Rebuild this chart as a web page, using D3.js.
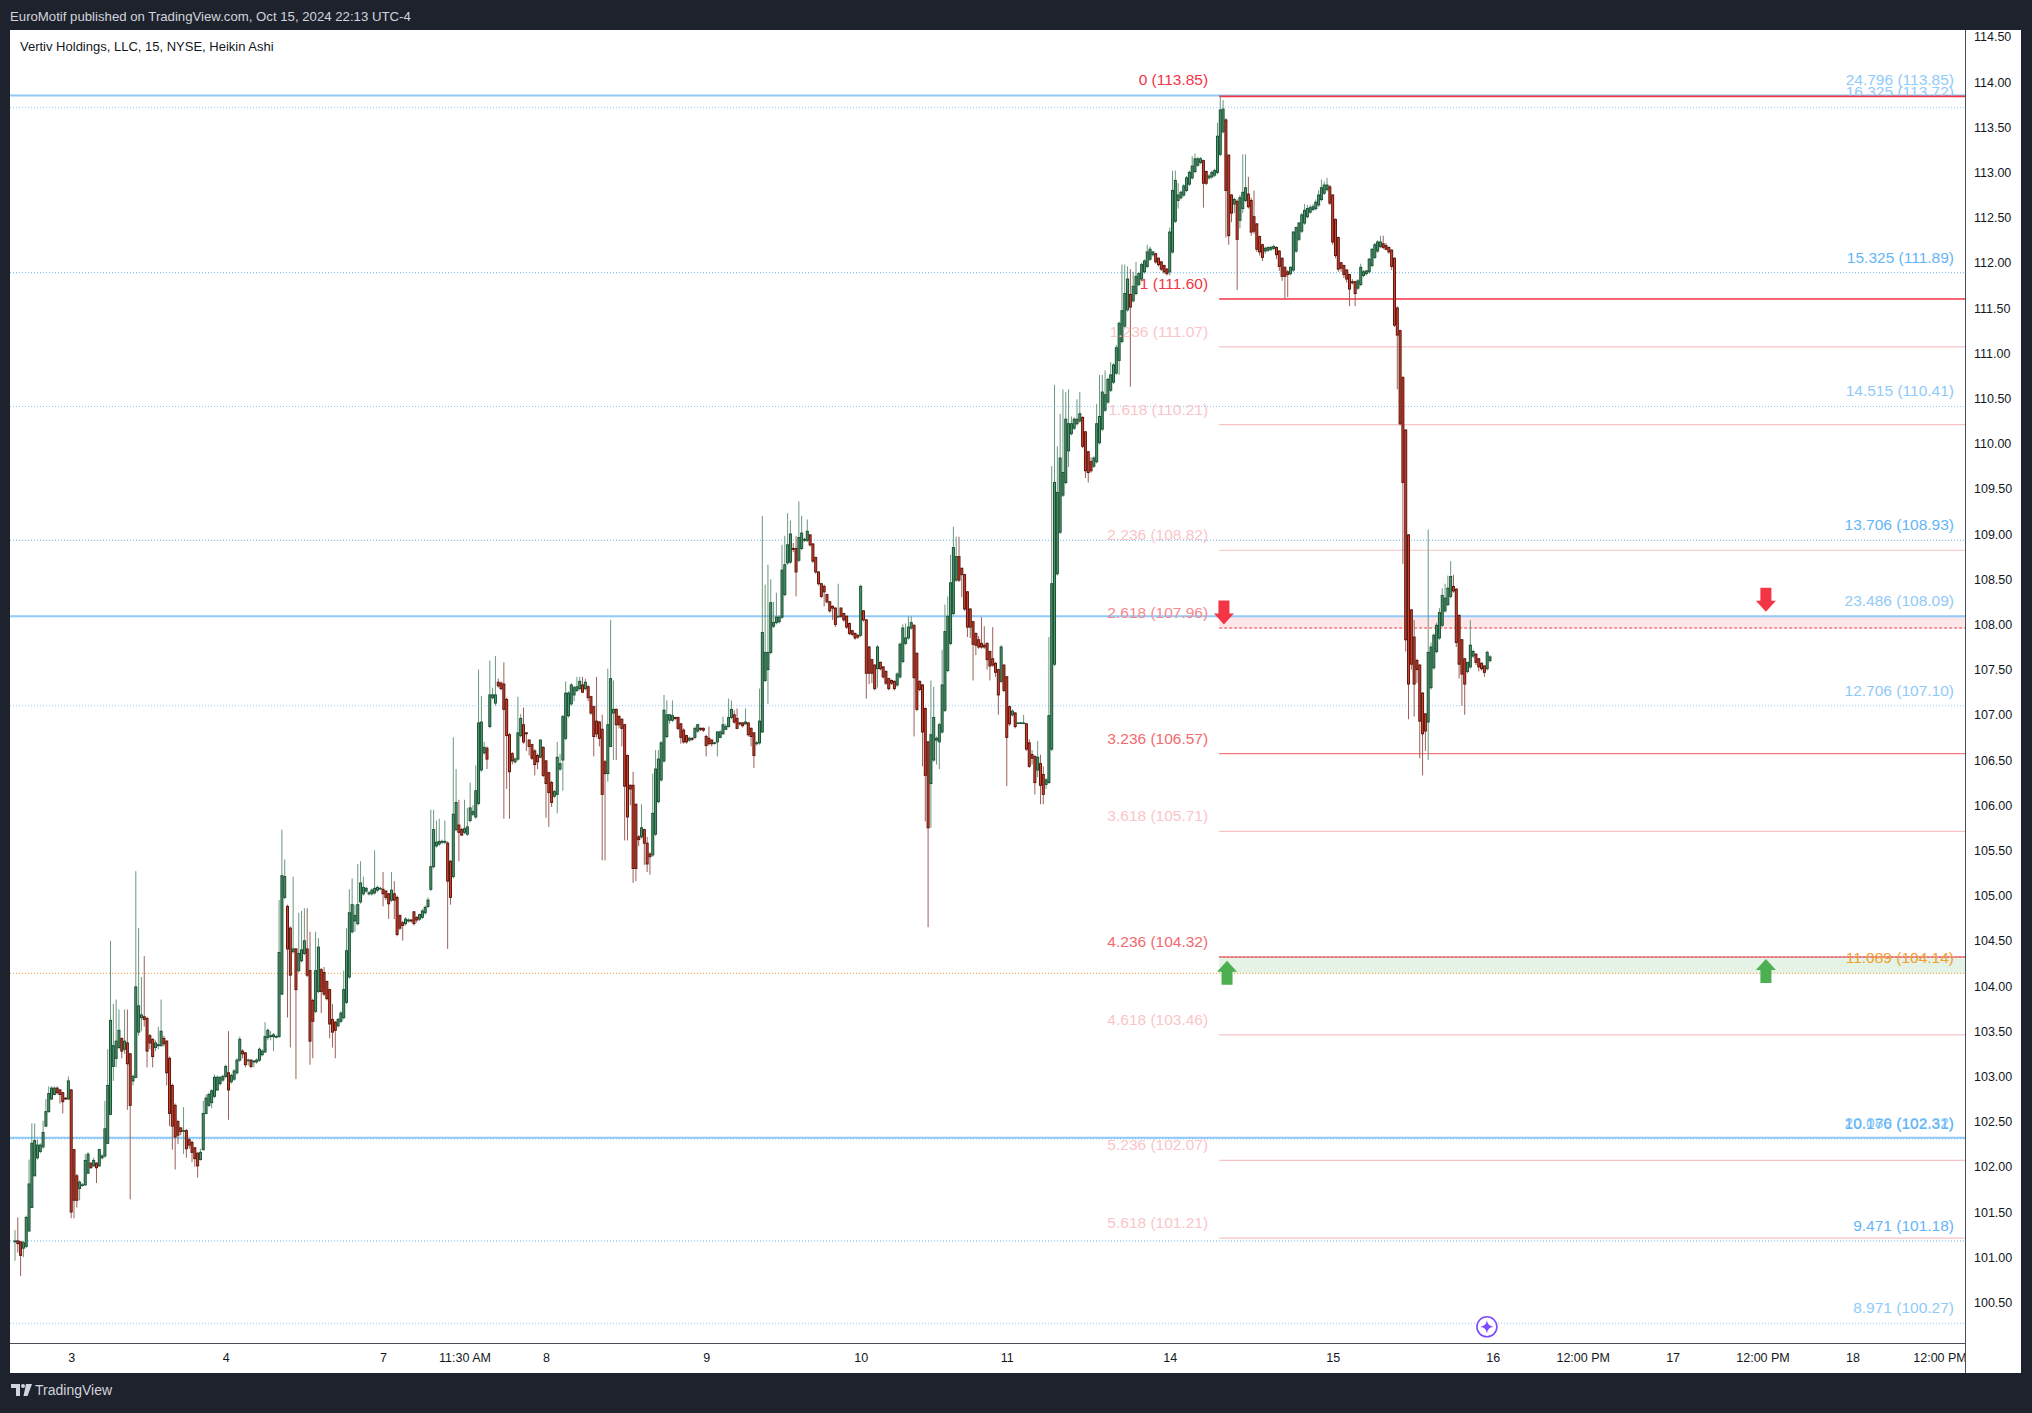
<!DOCTYPE html>
<html><head><meta charset="utf-8">
<script src="https://cdn.jsdelivr.net/npm/d3@7"></script>
<style>
html,body{margin:0;padding:0;background:#1e222d;}
svg{display:block;}
text{font-family:"Liberation Sans",Arial,sans-serif;}
</style></head><body>
<svg id="c" width="2032" height="1413"></svg>
<script>
// ---------- Heikin Ashi 15m bars, [open, high, low, close], one array per session ----------
const day02=[[101.17,101.30,100.96,101.18],[101.18,101.44,101.05,101.15],[101.17,101.18,100.79,101.02],[101.10,101.18,101.00,101.16],[101.12,101.46,101.10,101.44],[101.29,102.08,101.28,101.81],[101.55,102.48,101.55,102.26],[101.90,102.48,101.90,102.29],[102.10,102.30,102.08,102.24],[102.17,102.26,102.15,102.24],[102.22,102.51,102.20,102.38],[102.45,102.75,102.44,102.61],[102.61,102.89,102.60,102.81],[102.75,102.89,102.74,102.87],[102.80,102.89,102.79,102.87],[102.87,102.89,102.80,102.82],[102.85,102.86,102.70,102.80],[102.82,102.83,102.59,102.72],[102.76,102.77,102.74,102.75],[102.75,103.00,102.74,102.95]];
const day03=[[102.85,102.86,101.43,101.50],[102.19,102.19,101.43,101.63],[101.90,101.92,101.55,101.63],[101.76,101.85,101.63,101.83],[101.80,101.82,101.78,101.80],[101.80,102.14,101.79,102.07],[101.93,102.16,101.92,102.14],[102.04,102.05,101.98,101.99],[102.01,102.10,102.00,102.07],[102.04,102.05,101.82,101.99],[102.01,102.20,102.00,102.19],[102.10,102.14,102.08,102.12],[102.12,102.73,102.10,102.42],[102.26,103.30,102.25,102.90],[102.58,104.50,102.57,103.62],[103.11,103.80,102.95,103.34],[103.20,103.85,103.10,103.39],[103.32,103.74,103.30,103.51],[103.42,103.43,103.20,103.28],[103.30,103.74,103.25,103.39],[103.37,103.74,102.63,103.14],[103.25,103.26,101.64,102.68],[102.95,103.02,102.90,103.00],[102.99,105.27,102.98,103.99],[103.49,104.64,103.45,103.78],[103.65,104.10,103.50,103.68],[103.66,104.33,103.55,103.63],[103.64,103.66,103.10,103.28],[103.45,103.47,103.30,103.37],[103.41,103.42,103.10,103.22],[103.32,103.40,103.28,103.37],[103.34,103.55,103.30,103.35],[103.34,103.85,103.33,103.50],[103.42,103.45,103.33,103.36],[103.39,103.40,102.90,103.04],[103.20,103.22,102.45,102.59],[102.90,102.92,102.19,102.45],[102.68,102.70,101.97,102.33],[102.50,102.52,102.25,102.35],[102.43,102.44,102.35,102.39],[102.40,102.66,102.14,102.40],[102.40,102.42,102.10,102.20],[102.30,102.32,102.20,102.24],[102.27,102.29,102.05,102.16],[102.21,102.22,102.00,102.09],[102.15,102.16,101.88,102.01],[102.08,102.20,102.07,102.16],[102.19,102.73,102.18,102.59],[102.59,102.80,102.58,102.76],[102.68,102.82,102.66,102.80],[102.71,102.86,102.65,102.84],[102.78,103.02,102.76,102.99],[102.85,103.01,102.84,102.99],[102.92,103.00,102.90,102.99],[102.96,103.02,102.94,103.00]];
const day04=[[103.00,103.13,102.98,103.11],[103.04,103.50,102.52,102.85],[102.94,103.03,102.92,103.01],[102.97,103.08,102.95,103.06],[103.04,103.20,103.02,103.18],[103.18,103.44,103.16,103.41],[103.28,103.30,103.20,103.25],[103.26,103.27,103.10,103.13],[103.18,103.20,103.12,103.18],[103.18,103.19,103.09,103.11],[103.16,103.18,103.10,103.17],[103.16,103.20,103.14,103.18],[103.18,103.32,103.16,103.30],[103.24,103.30,103.22,103.28],[103.27,103.60,103.26,103.44],[103.43,103.53,103.40,103.51],[103.44,103.50,103.40,103.45],[103.44,103.48,103.28,103.46],[103.44,103.46,103.42,103.44],[103.44,104.95,103.43,104.37],[103.91,105.73,103.90,105.22],[104.98,105.40,104.96,105.21],[104.88,104.90,103.65,104.41],[104.64,104.66,103.32,104.12],[104.38,105.21,104.36,104.41],[104.41,104.42,102.97,103.96],[104.17,104.81,104.15,104.36],[104.28,104.83,104.26,104.40],[104.36,104.86,104.34,104.50],[104.41,104.86,104.10,104.12],[104.17,104.60,103.13,103.39],[103.84,103.86,103.20,103.61],[103.72,104.60,103.70,104.17],[103.94,104.53,103.92,104.43],[104.18,104.20,103.70,103.94],[104.15,104.21,103.89,103.91],[104.05,104.06,103.84,103.86],[103.96,103.97,103.42,103.58],[103.63,103.80,103.32,103.49],[103.60,103.61,103.20,103.51],[103.56,103.65,103.54,103.63],[103.61,103.72,103.59,103.70],[103.65,104.17,103.63,103.96],[103.82,104.64,103.80,104.39],[104.10,105.07,104.08,104.81],[104.60,105.19,104.58,104.90],[104.72,104.90,104.60,104.78],[104.69,105.35,104.67,104.90],[104.93,105.38,104.91,105.14],[105.02,105.21,105.00,105.09],[105.05,105.10,105.03,105.08],[105.02,105.05,105.00,105.03],[105.02,105.08,105.00,105.06],[105.03,105.50,105.01,105.08],[105.06,105.11,105.04,105.09],[105.08,105.10,105.06,105.08]];
const day07=[[105.07,105.26,104.88,105.02],[105.05,105.06,104.95,104.98],[105.02,105.03,104.74,104.91],[104.95,105.26,104.93,105.06],[105.02,105.16,104.74,104.95],[104.98,105.00,104.55,104.57],[104.78,104.79,104.62,104.64],[104.70,104.72,104.50,104.67],[104.69,104.76,104.67,104.74],[104.72,104.75,104.70,104.73],[104.73,104.74,104.70,104.72],[104.82,104.83,104.67,104.69],[104.76,104.77,104.70,104.73],[104.74,104.80,104.72,104.79],[104.76,104.85,104.74,104.83],[104.81,104.89,104.79,104.87],[104.88,104.98,104.86,104.95],[105.07,105.95,105.05,105.32],[105.32,105.95,105.30,105.73],[105.55,105.83,105.53,105.59],[105.57,105.85,105.55,105.60],[105.59,105.62,105.57,105.60],[105.59,105.83,105.57,105.60],[105.58,105.60,104.41,105.16],[105.38,105.39,104.90,104.98],[105.21,106.75,105.19,105.90],[105.73,106.40,105.71,106.03],[105.78,106.06,105.38,105.70],[105.73,105.75,105.66,105.67],[105.70,106.06,105.68,105.74],[105.68,105.97,105.66,105.76],[105.83,106.25,105.81,105.97],[105.90,106.00,105.88,105.93],[105.87,106.44,105.85,106.16],[106.02,107.50,106.00,106.91],[106.39,107.21,106.37,106.92],[106.58,106.70,106.56,106.64],[106.63,106.65,106.40,106.51],[106.87,107.60,106.85,107.22],[107.19,107.30,107.17,107.22],[107.13,107.65,107.10,107.22],[107.36,107.40,107.30,107.32],[107.35,107.37,107.27,107.29],[107.34,107.58,105.85,107.06],[107.17,107.19,106.18,106.77],[106.78,106.80,105.85,106.37],[106.57,106.59,106.45,106.49],[106.48,106.53,106.46,106.51],[106.51,107.20,106.49,106.80],[106.77,107.01,106.75,106.96],[106.89,107.08,106.68,106.70],[106.80,106.81,106.60,106.79],[106.72,106.73,106.55,106.65],[106.67,106.68,106.50,106.52],[106.60,106.62,106.33,106.45],[106.55,106.57,106.40,106.48],[106.53,106.73,106.52,106.72],[106.64,106.65,106.31,106.33]];
const day08=[[106.49,106.50,105.86,106.24],[106.36,106.37,105.76,106.14],[106.25,106.27,105.98,106.03],[106.10,106.17,106.08,106.15],[106.12,106.70,105.91,106.53],[106.40,106.57,106.38,106.46],[106.50,107.00,106.16,106.98],[106.74,107.37,106.72,107.24],[106.99,107.26,106.97,107.24],[107.12,107.35,107.10,107.33],[107.22,107.32,107.15,107.30],[107.27,107.42,107.25,107.31],[107.29,107.42,107.27,107.37],[107.33,107.42,107.24,107.25],[107.29,107.40,107.27,107.36],[107.31,107.33,107.15,107.19],[107.20,107.21,107.00,107.02],[107.09,107.10,106.54,106.76],[106.93,107.42,106.75,106.79],[106.92,106.93,106.65,106.74],[106.84,107.00,105.39,106.12],[106.48,106.50,105.39,106.35],[106.35,107.51,106.26,106.89],[106.65,108.05,106.65,107.40],[107.02,107.38,106.50,107.06],[107.06,107.07,106.50,106.89],[106.98,107.00,106.85,106.89],[106.95,106.96,106.65,106.85],[106.89,106.90,105.61,106.21],[106.55,106.56,105.61,105.87],[106.22,106.23,106.00,106.18],[106.22,106.37,105.14,105.30],[106.01,106.02,105.16,105.30],[105.65,105.67,105.55,105.62],[105.65,106.01,105.63,105.75],[105.73,105.74,105.34,105.58],[105.58,105.65,105.26,105.35],[105.46,105.48,105.23,105.43],[105.45,106.35,105.43,105.91],[105.68,106.61,105.66,106.40],[106.04,106.61,106.02,106.51],[106.28,106.71,106.26,106.69],[106.49,107.22,106.47,107.05],[106.76,107.16,106.74,107.00],[106.94,107.01,106.90,107.00],[106.94,107.16,106.92,106.99],[106.97,106.98,106.94,106.96],[106.97,106.98,106.83,106.85],[106.90,106.91,106.68,106.75],[106.83,106.85,106.68,106.70],[106.77,106.78,106.68,106.70],[106.72,106.76,106.70,106.74],[106.74,106.75,106.71,106.73],[106.75,106.87,106.73,106.85],[106.82,106.90,106.80,106.89],[106.85,106.86,106.82,106.84],[106.85,106.86,106.81,106.83]];
const day09=[[106.76,106.78,106.54,106.66],[106.74,106.87,106.66,106.68],[106.72,106.73,106.65,106.68],[106.69,106.70,106.67,106.69],[106.70,106.82,106.54,106.81],[106.75,106.83,106.74,106.81],[106.79,106.98,106.78,106.89],[106.84,106.90,106.83,106.87],[106.87,107.18,106.86,106.97],[106.97,107.16,106.95,107.06],[107.00,107.05,106.90,106.92],[106.96,107.07,106.84,106.85],[106.91,106.92,106.88,106.90],[106.91,106.92,106.86,106.88],[106.90,107.07,106.89,106.92],[106.91,106.92,106.76,106.78],[106.85,106.86,106.65,106.76],[106.80,106.81,106.41,106.55],[106.68,106.71,106.66,106.69],[106.69,107.29,106.67,106.93],[106.81,109.20,106.80,107.91],[107.38,108.44,107.36,107.69],[107.50,108.66,107.12,107.69],[107.69,108.50,107.67,108.24],[107.98,108.25,107.96,108.02],[108.02,108.35,108.00,108.08],[108.03,108.10,108.01,108.08],[108.08,108.88,108.06,108.60],[108.33,108.98,108.31,108.66],[108.68,109.23,108.66,108.88],[108.69,109.15,108.67,109.00],[108.84,108.90,108.80,108.83],[108.84,108.98,108.31,108.58],[108.71,109.36,108.69,108.96],[108.84,109.20,108.82,109.01],[108.93,108.96,108.91,108.94],[108.93,109.16,108.91,109.03],[108.99,109.00,108.86,108.88],[108.89,108.90,108.68,108.70],[108.74,108.75,108.56,108.58],[108.58,108.59,108.43,108.45],[108.45,108.46,108.29,108.31],[108.42,108.44,108.20,108.36],[108.33,108.34,108.23,108.25],[108.25,108.26,108.13,108.15],[108.20,108.21,108.05,108.18],[108.18,108.19,107.97,108.00],[108.09,108.45,108.07,108.09],[108.18,108.19,108.07,108.09],[108.12,108.13,108.03,108.05],[108.09,108.10,107.95,107.97],[108.01,108.02,107.88,107.90],[107.93,107.94,107.87,107.89],[107.90,107.91,107.83,107.85],[107.88,107.89,107.84,107.86]];
const day10=[[107.88,108.44,107.86,108.42],[108.15,108.16,108.03,108.05],[108.05,108.06,107.18,107.46],[107.75,107.76,107.34,107.46],[107.61,107.62,107.35,107.46],[107.55,107.56,107.27,107.29],[107.51,107.77,107.30,107.75],[107.58,107.59,107.49,107.51],[107.53,107.54,107.40,107.42],[107.48,107.49,107.33,107.35],[107.40,107.41,107.27,107.29],[107.38,107.39,107.33,107.35],[107.37,107.38,107.27,107.29],[107.33,107.47,107.31,107.45],[107.42,107.80,107.40,107.78],[107.59,108.00,107.57,107.96],[107.79,108.01,107.77,107.85],[107.85,108.09,107.83,107.97],[107.96,108.09,107.94,108.02],[107.99,108.00,106.76,107.41],[107.68,107.69,107.04,107.06],[107.37,107.38,107.26,107.28],[107.33,107.34,106.43,106.81],[107.07,107.08,105.82,106.33],[106.70,106.71,104.65,105.75],[106.24,107.38,105.75,106.78],[106.50,107.31,106.48,106.97],[106.72,106.76,106.45,106.74],[106.70,106.91,106.40,106.89],[106.81,107.72,106.79,107.33],[107.05,108.22,107.03,107.92],[107.49,108.31,107.47,108.09],[107.79,108.77,107.77,108.46],[108.12,109.08,108.10,108.85],[108.49,108.97,108.47,108.75],[108.75,108.97,108.47,108.49],[108.62,108.63,108.30,108.55],[108.55,108.56,108.15,108.17],[108.36,108.37,107.86,107.97],[108.17,108.18,107.85,107.97],[108.03,108.04,107.38,107.78],[107.90,107.91,107.66,107.77],[107.83,107.87,107.73,107.75],[107.79,108.08,107.73,107.75],[107.77,107.98,107.73,107.75],[107.79,107.80,107.50,107.61],[107.70,107.71,107.38,107.54],[107.62,107.97,107.53,107.55],[107.57,107.58,107.42,107.47],[107.50,107.51,107.00,107.22],[107.37,107.77,107.35,107.75],[107.55,107.56,107.25,107.27]];
const day11=[[107.42,107.43,106.21,106.75],[107.09,107.10,106.88,106.90],[107.00,107.06,106.98,107.04],[107.02,107.03,106.85,106.87],[106.91,106.92,106.90,106.91],[106.91,106.92,106.90,106.91],[106.91,107.00,106.90,106.91],[106.90,106.91,106.60,106.62],[106.69,106.73,106.41,106.43],[106.56,106.61,106.45,106.52],[106.54,106.55,106.12,106.25],[106.39,106.71,106.31,106.53],[106.46,106.56,106.01,106.22],[106.34,106.43,106.01,106.12],[106.23,106.30,106.18,106.28],[106.25,107.86,106.24,106.99],[106.62,109.75,106.60,108.45],[107.56,110.65,107.54,109.57],[108.56,109.97,108.54,109.46],[109.02,110.33,109.00,109.84],[109.43,110.60,109.41,109.68],[109.57,110.57,109.55,110.27],[109.92,110.60,109.74,110.22],[110.11,110.30,110.09,110.22],[110.17,110.29,110.15,110.27],[110.22,110.49,110.20,110.27],[110.25,110.57,110.23,110.33],[110.29,110.30,109.95,109.97],[110.13,110.14,109.62,109.70],[109.91,109.92,109.57,109.68],[109.80,109.85,109.68,109.70],[109.75,109.86,109.73,109.84],[109.80,110.44,109.78,110.22],[110.01,110.76,109.99,110.30],[110.16,110.76,110.14,110.57],[110.37,110.81,110.35,110.54],[110.46,110.73,110.44,110.71],[110.59,110.90,110.57,110.76],[110.68,110.89,110.66,110.87],[110.78,111.09,110.76,111.06],[110.92,111.35,110.76,111.33],[111.13,111.98,111.11,111.47],[111.30,111.98,111.28,111.66],[111.48,111.96,111.46,111.82],[111.65,111.93,110.63,111.51],[111.58,111.90,111.56,111.74],[111.66,112.01,111.64,111.85],[111.76,111.90,111.74,111.88],[111.82,112.00,111.80,111.98],[111.90,112.04,111.88,112.02],[111.96,112.20,111.94,112.12],[112.04,112.18,112.02,112.15],[112.09,112.13,112.07,112.12],[112.10,112.11,111.99,112.01],[112.05,112.06,111.96,111.98],[112.01,112.02,111.91,111.93],[111.97,111.98,111.88,111.90],[111.93,111.94,111.86,111.88]];
const day14=[[111.90,112.39,111.86,112.34],[112.12,113.02,112.10,112.80],[112.46,113.02,112.44,112.91],[112.69,112.88,112.60,112.75],[112.72,112.80,112.70,112.78],[112.75,112.87,112.73,112.85],[112.80,112.96,112.78,112.94],[112.87,113.02,112.85,113.00],[112.94,113.18,112.92,113.07],[113.01,113.21,112.99,113.15],[113.08,113.17,113.06,113.15],[113.11,113.17,113.09,113.15],[113.13,113.14,112.61,112.88],[113.01,113.02,112.86,112.88],[112.94,112.98,112.92,112.96],[112.95,113.02,112.93,113.00],[112.97,113.04,112.95,113.02],[113.00,113.55,112.98,113.40],[113.20,113.85,113.18,113.69],[113.45,113.80,113.43,113.70],[113.58,113.60,112.28,112.80],[113.19,113.20,112.20,112.30],[112.75,112.76,112.45,112.55],[112.65,112.72,112.55,112.70],[112.68,112.70,111.70,112.26],[112.47,112.75,112.38,112.72],[112.60,113.20,112.55,112.78],[112.69,113.20,112.67,112.83],[112.76,112.95,112.60,112.62],[112.69,112.72,112.30,112.34],[112.51,112.80,112.32,112.35],[112.43,112.44,112.12,112.15],[112.29,112.30,112.08,112.12],[112.20,112.21,112.02,112.06],[112.13,112.18,112.10,112.16],[112.14,112.18,112.12,112.17],[112.15,112.19,112.13,112.17],[112.16,112.20,112.14,112.18],[112.17,112.18,112.04,112.09],[112.13,112.14,111.91,111.96],[112.05,112.06,111.80,111.85],[111.95,111.96,111.60,111.85],[111.90,111.92,111.62,111.87],[111.88,111.96,111.86,111.95],[111.92,112.35,111.90,112.34],[112.13,112.40,112.11,112.39],[112.26,112.45,112.24,112.44],[112.35,112.55,112.33,112.53],[112.44,112.65,112.42,112.58],[112.51,112.64,112.49,112.60],[112.56,112.64,112.54,112.61],[112.59,112.65,112.57,112.62],[112.60,112.70,112.58,112.67],[112.64,112.80,112.62,112.75],[112.70,112.92,112.68,112.83],[112.77,112.90,112.75,112.86],[112.81,112.94,112.79,112.86],[112.84,112.86,112.64,112.66]];
const day15=[[112.75,112.76,112.20,112.23],[112.48,112.49,112.05,112.08],[112.28,112.29,111.90,111.93],[112.00,112.01,111.90,111.94],[111.97,111.98,111.83,111.87],[111.92,111.93,111.78,111.82],[111.87,111.88,111.52,111.71],[111.79,111.82,111.76,111.78],[111.79,111.80,111.52,111.66],[111.72,111.82,111.70,111.80],[111.76,111.99,111.74,111.95],[111.86,111.92,111.84,111.90],[111.88,111.92,111.86,111.91],[111.90,112.05,111.88,112.04],[111.97,112.16,111.95,112.15],[112.06,112.22,112.04,112.20],[112.13,112.25,112.11,112.23],[112.18,112.30,112.16,112.23],[112.21,112.30,112.15,112.17],[112.19,112.22,112.14,112.15],[112.17,112.18,112.10,112.12],[112.14,112.15,111.92,111.96],[112.05,112.06,111.29,111.31],[111.50,111.52,110.60,111.20],[111.25,111.26,110.20,110.22],[110.73,110.75,108.67,109.57],[110.15,110.16,107.70,107.83],[108.99,109.00,106.95,107.34],[108.16,108.17,107.50,107.56],[107.86,108.05,106.98,107.34],[107.60,107.62,107.35,107.50],[107.55,107.56,106.52,106.93],[107.24,107.25,106.33,106.79],[107.01,107.02,106.60,106.82],[106.92,109.05,106.50,107.69],[107.30,107.80,107.28,107.75],[107.52,107.90,107.50,107.88],[107.70,108.02,107.68,107.99],[107.85,108.18,107.83,108.13],[107.99,108.40,107.97,108.32],[108.15,108.45,108.13,108.29],[108.22,108.54,108.20,108.40],[108.31,108.70,108.29,108.53],[108.42,108.55,108.35,108.37],[108.39,108.40,107.75,107.80],[108.10,108.11,107.40,107.56],[107.83,107.84,107.10,107.45],[107.62,107.63,107.00,107.34],[107.48,107.58,107.46,107.58],[107.53,108.05,107.51,107.77],[107.65,107.72,107.63,107.70],[107.67,107.68,107.55,107.58],[107.62,107.63,107.48,107.53],[107.57,107.58,107.49,107.51],[107.54,107.55,107.42,107.47],[107.51,107.71,107.49,107.69],[107.60,107.66,107.58,107.64]];

// ---------- Axis ticks ----------
const priceTicks=[100.5,101,101.5,102,102.5,103,103.5,104,104.5,105,105.5,106,106.5,107,107.5,108,108.5,109,109.5,110,110.5,111,111.5,112,112.5,113,113.5,114,114.5];
const tickLabels=["3","4","7","11:30 AM","8","9","10","11","14","15","16","12:00 PM","17","12:00 PM","18","12:00 PM"];
const tickIndex=[20,75,131,160,189,246,301,353,411,469,526,558,590,622,654,685];

// ---------- Fib retracement (red, drawn from the high bar) ----------
const fibLevels=["0","1","1.236","1.618","2.236","2.618","3.236","3.618","4.236","4.618","5.236","5.618"];
const fibPrices=[113.85,111.60,111.07,110.21,108.82,107.96,106.57,105.71,104.32,103.46,102.07,101.21];
const fibTone=["strong","strong","faint","faint","faint","dash","mid","faint","mid","faint","faint","faint"];
const fibStartIndex=428.6;

// ---------- Fib extension levels (blue, full width) ----------
const extLevels=["24.796","16.325","15.325","14.515","13.706","23.486","12.706","11.089","20.080","10.176","9.471","8.971"];
const extPrices=[113.85,113.72,111.89,110.41,108.93,108.09,107.10,104.14,102.32,102.31,101.18,100.27];
const extTone=["solid","light","dark","light","dark","solid","light","orange","solid","dark","dark","light"];

// ---------- Zones and markers ----------
const zoneTop=[108.09,104.32];
const zoneBottom=[107.96,104.14];
const zoneFill=["rgba(242,54,69,0.12)","rgba(76,175,80,0.15)"];
const arrowIndex=[430.3,623.2,431.4,623.2];
const arrowTip=[108.00,108.14,104.28,104.30];
const arrowDir=["down","down","up","up"];
const iconIndex=523.9, iconPrice=100.23;

// ---------- Drawing ----------
const FONT='"Liberation Sans",Arial,sans-serif';
const days=[day02,day03,day04,day07,day08,day09,day10,day11,day14,day15];
const bars=days.flat();
const W=2032,H=1413;
const PL=10,PT=30,PR=1965,PB=1343;
const svg=d3.select("#c");
svg.append("rect").attr("width",W).attr("height",H).attr("fill","#1e222d");
svg.append("rect").attr("x",10).attr("y",30).attr("width",2011).attr("height",1343).attr("fill","#ffffff");

const defs=svg.append("defs");
defs.append("clipPath").attr("id","plotClip").append("rect").attr("x",PL).attr("y",PT).attr("width",PR-PL).attr("height",PB-PT);
defs.append("clipPath").attr("id","timeClip").append("rect").attr("x",PL).attr("y",PB).attr("width",PR-PL).attr("height",30);
defs.append("clipPath").attr("id","lblClip").append("rect").attr("x",1700).attr("y",PT).attr("width",265).attr("height",65.5);

const x=d3.scaleLinear().domain([0,bars.length-1]).range([15,1490]);
const y=d3.scaleLinear().domain([100.5,114.5]).range([1302.4,36.8]);

const plot=svg.append("g").attr("clip-path","url(#plotClip)");

const extStyle={
  solid:{c:"#90caf9",w:2,d:null},
  dark:{c:"#64b5f6",w:1,d:"1,2"},
  light:{c:"#90caf9",w:1,d:"1,2"},
  orange:{c:"#f0a020",w:1,d:"1,2"}
};
const extLabelColor={solid:"#90caf9",dark:"#64b5f6",light:"#90caf9",orange:"#f0a030"};

zoneTop.forEach((t,k)=>{
  plot.append("rect").attr("x",x(fibStartIndex)).attr("y",y(t)).attr("width",PR-x(fibStartIndex)).attr("height",y(zoneBottom[k])-y(t)).attr("fill",zoneFill[k]);
});

extPrices.forEach((p,k)=>{
  const s=extStyle[extTone[k]];
  plot.append("line").attr("x1",PL).attr("x2",PR).attr("y1",y(p)).attr("y2",y(p))
    .attr("stroke",s.c).attr("stroke-width",s.w).attr("stroke-dasharray",s.d);
});

const fibLine={strong:{c:"#f23645",w:1.6,d:null},mid:{c:"#f5787c",w:1.4,d:null},faint:{c:"#f8c3c6",w:1.2,d:null},dash:{c:"#f23645",w:1,d:"3,2"}};
const fibText={strong:"#f23645",mid:"#f26a6f",faint:"#fac5c8",dash:"#f6898d"};
fibPrices.forEach((p,k)=>{
  const s=fibLine[fibTone[k]];
  plot.append("line").attr("x1",x(fibStartIndex)).attr("x2",PR).attr("y1",y(p)+(k===0?0.8:0)).attr("y2",y(p)+(k===0?0.8:0))
    .attr("stroke",s.c).attr("stroke-width",k===0?1.8:s.w).attr("stroke-dasharray",s.d);
});
plot.append("line").attr("x1",x(fibStartIndex)).attr("x2",PR).attr("y1",y(zoneTop[1])).attr("y2",y(zoneTop[1]))
  .attr("stroke","#c0504a").attr("stroke-width",1).attr("stroke-dasharray","2,2").attr("opacity",0.8);

const labels=svg.append("g").style("font-size","15.5px").style("font-family",FONT);
fibPrices.forEach((p,k)=>{
  labels.append("text").attr("x",x(fibStartIndex)-11).attr("y",y(p)-15.5).attr("dy","0.35em")
    .attr("text-anchor","end").attr("fill",fibText[fibTone[k]])
    .text(`${fibLevels[k]} (${p.toFixed(2)})`);
});
extPrices.forEach((p,k)=>{
  const t=labels.append("text").attr("x",1954).attr("y",y(p)-15.5).attr("dy","0.35em")
    .attr("text-anchor","end").attr("fill",extLabelColor[extTone[k]])
    .text(`${extLevels[k]} (${p.toFixed(2)})`);
  if(extLevels[k]==="16.325") t.attr("clip-path","url(#lblClip)");
});

// candles
const up="#4e9a70", upEdge="#1c5034", dn="#d9412b", dnEdge="#5a170e";
const upWick="#6a987f", dnWick="#9c605a";
const cg=plot.append("g");
cg.selectAll("line.w").data(bars).join("line").attr("class","w")
  .attr("x1",(d,i)=>x(i)).attr("x2",(d,i)=>x(i))
  .attr("y1",d=>y(d[1])).attr("y2",d=>y(d[2]))
  .attr("stroke",d=>d[3]>=d[0]?upWick:dnWick).attr("stroke-width",1);
const bw=2.0;
cg.selectAll("rect.b").data(bars).join("rect").attr("class","b")
  .attr("x",(d,i)=>x(i)-bw/2).attr("width",bw)
  .attr("y",d=>y(Math.max(d[0],d[3])))
  .attr("height",d=>Math.max(0.6,Math.abs(y(d[0])-y(d[3]))))
  .attr("fill",d=>d[3]>=d[0]?up:dn)
  .attr("stroke",d=>d[3]>=d[0]?upEdge:dnEdge).attr("stroke-width",1);

// arrows
arrowIndex.forEach((ai,k)=>{
  const cx=x(ai), ty=y(arrowTip[k]);
  let p;
  if(arrowDir[k]==="down"){
    p=`M${cx-5.5},${ty-24}H${cx+5.5}V${ty-11}H${cx+10}L${cx},${ty}L${cx-10},${ty-11}H${cx-5.5}Z`;
  } else {
    p=`M${cx},${ty}L${cx+10},${ty+11}H${cx+5.5}V${ty+24}H${cx-5.5}V${ty+11}H${cx-10}Z`;
  }
  plot.append("path").attr("d",p).attr("fill",arrowDir[k]==="down"?"#f23645":"#4caf50");
});

// purple marker icon
const ix=x(iconIndex), iy=y(iconPrice);
plot.append("circle").attr("cx",ix).attr("cy",iy).attr("r",10).attr("fill","#fff").attr("stroke","#7c4dff").attr("stroke-width",1.6);
plot.append("path").attr("transform",`translate(${ix},${iy})`)
  .attr("d","M0,-6.5Q0.8,-0.8 6.5,0Q0.8,0.8 0,6.5Q-0.8,0.8 -6.5,0Q-0.8,-0.8 0,-6.5Z").attr("fill","#7c4dff");

// separators
svg.append("line").attr("x1",PR+0.5).attr("x2",PR+0.5).attr("y1",PT).attr("y2",1373).attr("stroke","#4a4d57").attr("stroke-width",1);
svg.append("line").attr("x1",PL).attr("x2",PR).attr("y1",PB+0.5).attr("y2",PB+0.5).attr("stroke","#4a4d57").attr("stroke-width",1);

// price axis
const ya=svg.append("g").attr("transform",`translate(${PR},0)`)
  .call(d3.axisRight(y).tickValues(priceTicks).tickFormat(d3.format(".2f")).tickSize(0).tickPadding(9));
ya.select(".domain").remove();
ya.selectAll("text").attr("fill","#131722").style("font-size","12.5px").style("font-family",FONT);

// time axis (clip applied on an untransformed wrapper)
const xwrap=svg.append("g").attr("clip-path","url(#timeClip)");
const xa=xwrap.append("g").attr("transform",`translate(0,${PB})`)
  .call(d3.axisBottom(x).tickValues(tickIndex).tickFormat((d,i)=>tickLabels[i]).tickSize(0).tickPadding(10));
xa.select(".domain").remove();
xa.selectAll("text").attr("fill","#131722").style("font-size","12.5px").style("font-family",FONT);

// header, title, footer
svg.append("text").attr("x",10).attr("y",16).attr("dy","0.35em").attr("fill","#d1d4dc").style("font-size","13.2px").style("font-family",FONT)
  .text("EuroMotif published on TradingView.com, Oct 15, 2024 22:13 UTC-4");
svg.append("text").attr("x",20).attr("y",46.5).attr("dy","0.35em").attr("fill","#131722").style("font-size","13px").style("font-family",FONT)
  .text("Vertiv Holdings, LLC, 15, NYSE, Heikin Ashi");
const logo=svg.append("g").attr("fill","#d1d4dc");
logo.append("path").attr("d","M11,1384H20V1396H16V1388H11Z");
logo.append("circle").attr("cx",23).attr("cy",1386).attr("r",2);
logo.append("path").attr("d","M26,1384H32L27.5,1396H23.5Z");
svg.append("text").attr("x",35).attr("y",1390).attr("dy","0.35em").attr("fill","#d1d4dc").style("font-size","14px").style("font-family",FONT).text("TradingView");
</script>
</body></html>
